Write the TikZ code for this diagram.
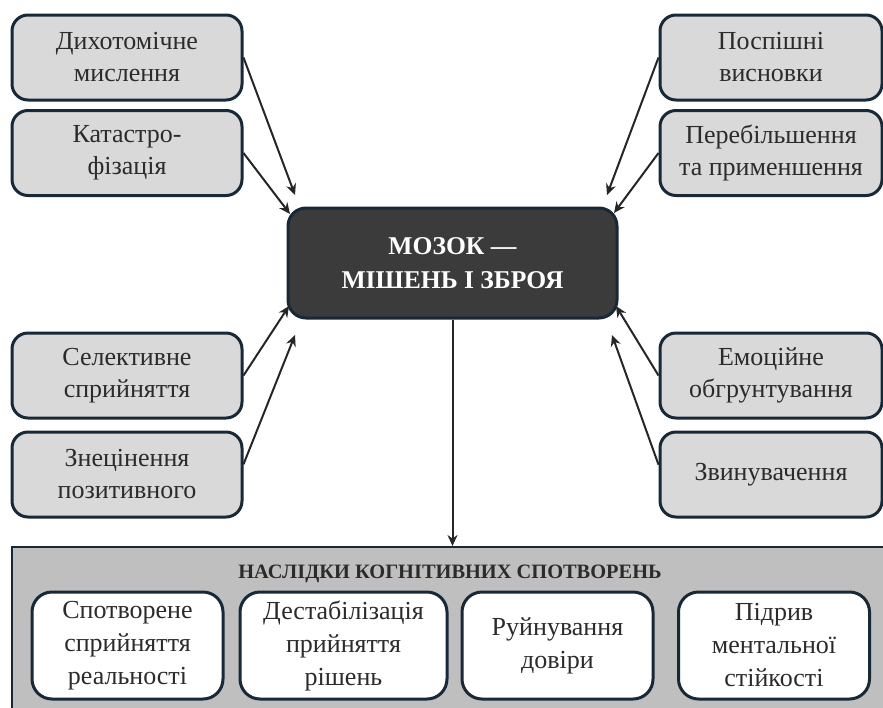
\documentclass[tikz,border=0pt]{standalone}
\usepackage{fontspec}
\setmainfont{Liberation Serif}
\usetikzlibrary{arrows.meta}

\definecolor{edgeblue}{HTML}{172837}
\definecolor{sidegray}{HTML}{D9D9D9}
\definecolor{panelgray}{HTML}{BFBFBF}
\definecolor{brainfill}{HTML}{3B3B3B}
\definecolor{txtgray}{HTML}{2B2B2B}

\tikzset{
  sidebox/.style={draw=edgeblue, line width=1.5pt, fill=sidegray, rounded corners=8pt,
    minimum width=115pt, minimum height=42.5pt, align=center, text=txtgray,
    font=\fontsize{13}{16}\selectfont},
  brainbox/.style={draw=edgeblue, line width=1.5pt, fill=brainfill, rounded corners=9pt,
    minimum width=164.5pt, minimum height=55pt, align=center, text=white,
    font=\bfseries\fontsize{12.8}{17}\selectfont},
  panelbox/.style={draw=edgeblue, line width=1pt, fill=panelgray,
    minimum width=441.5pt, minimum height=86.5pt},
  resultbox/.style={draw=edgeblue, line width=1.5pt, fill=white, rounded corners=10pt,
    minimum width=95.5pt, minimum height=53.5pt, align=center, text=txtgray,
    font=\fontsize{13}{16.5}\selectfont},
  link/.style={-{Stealth[length=5.5pt,width=5pt]}, line width=1pt, draw=black!85}
}

\begin{document}
\begin{tikzpicture}[x=0.5pt, y=-0.5pt]
  \useasboundingbox (0,0) rectangle (883,707);

  % Bottom panel with the consequences
  \node[panelbox] (panel) at (453.5,633.5) {};
  \node[font=\bfseries\fontsize{10.2}{12}\selectfont, text=txtgray] (paneltitle) at (450,574)
    {НАСЛІДКИ КОГНІТИВНИХ СПОТВОРЕНЬ};

  \node[resultbox] (distort) at (127.5,645.5) {Спотворене\\сприйняття\\реальності};
  \node[resultbox, minimum width=103.5pt] (destab) at (343.5,645.5) {Дестабілізація\\прийняття\\рішень};
  \node[resultbox] (trust) at (557.5,645.5) {Руйнування\\довіри};
  \node[resultbox] (resil) at (774,645.5) {Підрив\\ментальної\\стійкості};

  % Central box
  \node[brainbox] (brain) at (452.5,263) {МОЗОК —\\МІШЕНЬ І ЗБРОЯ};

  % Distortions on the left
  \node[sidebox] (dichot) at (127,57.5) {Дихотомічне\\мислення};
  \node[sidebox] (catastr) at (127,153) {Катастро-\\фізація};
  \node[sidebox] (select) at (127,375.5) {Селективне\\сприйняття};
  \node[sidebox] (devalue) at (127,474.5) {Знецінення\\позитивного};

  % Distortions on the right
  \node[sidebox, minimum width=111pt] (hasty) at (771,57.5) {Поспішні\\висновки};
  \node[sidebox, minimum width=111pt] (exagg) at (771,153) {Перебільшення\\та применшення};
  \node[sidebox, minimum width=111pt] (emot) at (771,375.5) {Емоційне\\обгрунтування};
  \node[sidebox, minimum width=111pt] (blame) at (771,474.5) {Звинувачення};

  % Free ends of the arrows
  \coordinate (dichotEnd) at (295,195);
  \coordinate (catastrEnd) at (290,214);
  \coordinate (selectEnd) at (289,306);
  \coordinate (devalueEnd) at (295,335);
  \coordinate (hastyEnd) at (607,195);
  \coordinate (exaggEnd) at (614,213);
  \coordinate (emotEnd) at (616,306);
  \coordinate (blameEnd) at (612,335);

  % Arrows into the brain
  \draw[link] (dichot.east) -- (dichotEnd);
  \draw[link] (catastr.east) -- (catastrEnd);
  \draw[link] (select.east) -- (selectEnd);
  \draw[link] (devalue.5) -- (devalueEnd);
  \draw[link] (hasty.west) -- (hastyEnd);
  \draw[link] (exagg.west) -- (exaggEnd);
  \draw[link] (emot.west) -- (emotEnd);
  \draw[link] (blame.175) -- (blameEnd);

  % Arrow down to the consequences
  \draw[link] (brain.south) -- (brain.south |- panel.north);

\end{tikzpicture}
\end{document}
